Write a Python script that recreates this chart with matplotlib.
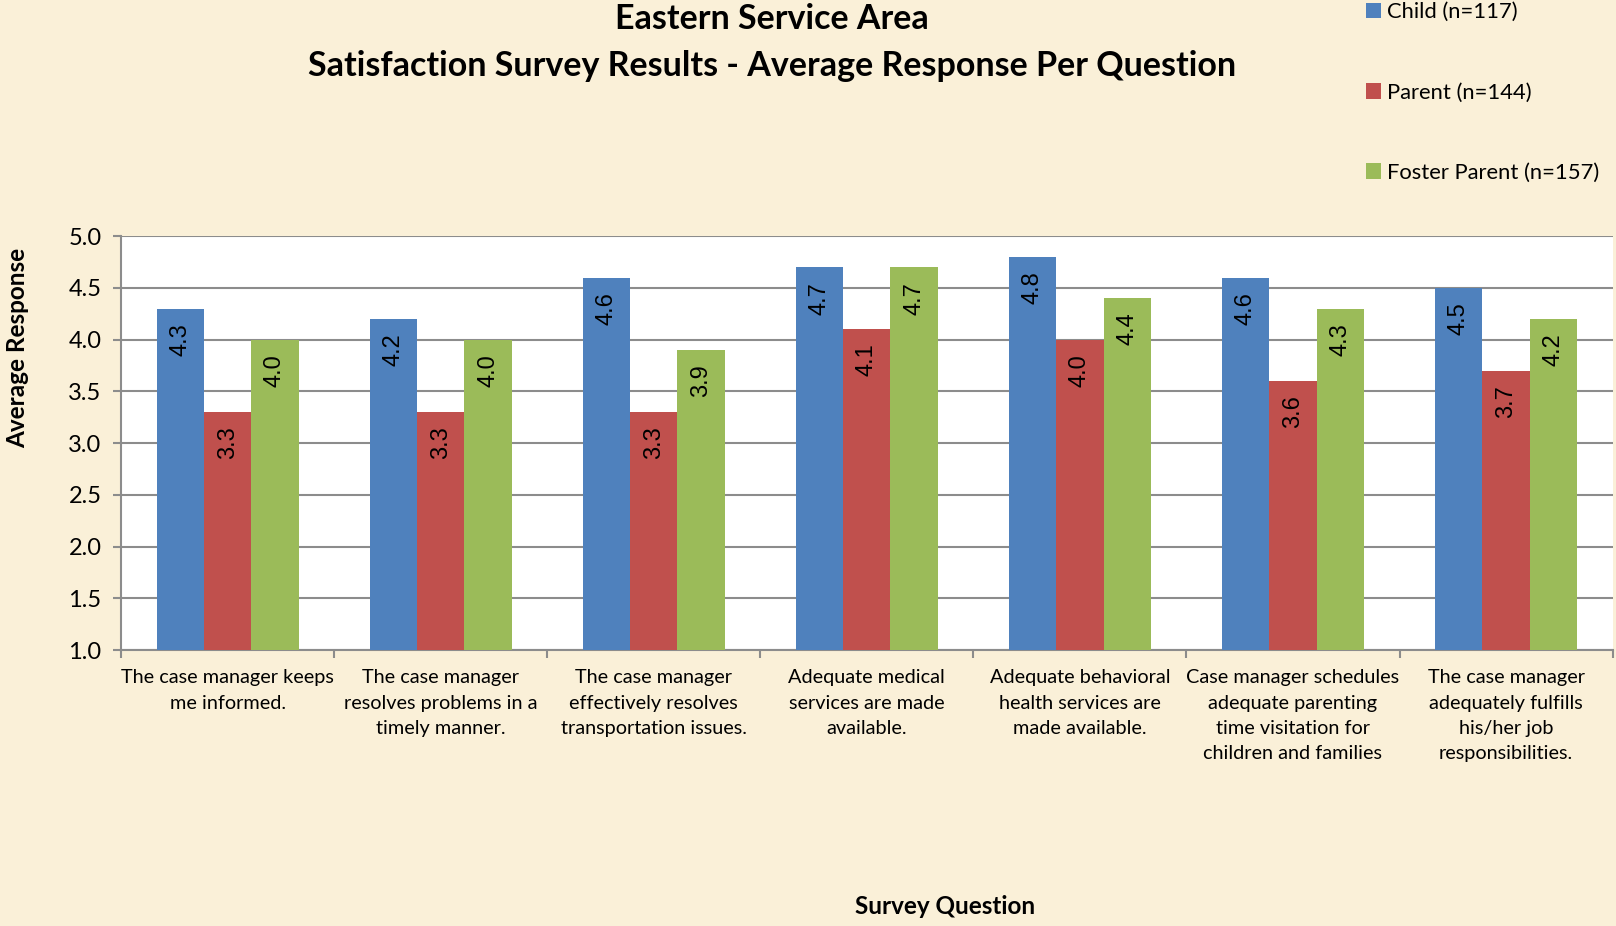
import matplotlib.pyplot as plt
import numpy as np

questions = [
    "The case manager keeps\nme informed.",
    "The case manager\nresolves problems in a\ntimely manner.",
    "The case manager\neffectively resolves\ntransportation issues.",
    "Adequate medical\nservices are made\navailable.",
    "Adequate behavioral\nhealth services are\nmade available.",
    "Case manager schedules\nadequate parenting\ntime visitation for\nchildren and families",
    "The case manager\nadequately fulfills\nhis/her job\nresponsibilities.",
]
series_names = ["Child (n=117)", "Parent (n=144)", "Foster Parent (n=157)"]
child = [4.3, 4.2, 4.6, 4.7, 4.8, 4.6, 4.5]
parent = [3.3, 3.3, 3.3, 4.1, 4.0, 3.6, 3.7]
foster = [4.0, 4.0, 3.9, 4.7, 4.4, 4.3, 4.2]
colors = ["#4F81BD", "#C0504D", "#9BBB59"]
yticks = [1.0, 1.5, 2.0, 2.5, 3.0, 3.5, 4.0, 4.5, 5.0]

font = "Lato"
bg = "#FAF0D8"

fig = plt.figure(figsize=(16.16, 9.26), dpi=100)
fig.patch.set_facecolor(bg)
ax = fig.add_axes([0.0749, 0.298, 0.923, 0.447])
ax.set_facecolor("white")

x = np.arange(len(questions))
w = 1 / 4.5
for i, (vals, c) in enumerate(zip([child, parent, foster], colors)):
    bars = ax.bar(x + (i - 1) * w, np.array(vals) - 1.0, w, bottom=1.0,
                  color=c, label=series_names[i], zorder=3)
    for b, v in zip(bars, vals):
        ax.text(b.get_x() + b.get_width() / 2, v - 0.14, f"{v:.1f}",
                rotation=90, ha="center", va="top", fontsize=17,
                family="Liberation Sans", zorder=4)

ax.set_ylim(1.0, 5.0)
ax.set_xlim(-0.5, len(questions) - 0.5)
ax.set_yticks(yticks)
ax.set_yticklabels([f"{t:.1f}" for t in yticks], family=font, fontsize=17)
ax.yaxis.grid(True, color="#8C8C8C", linewidth=1.5, zorder=0)
ax.set_axisbelow(True)

ax.set_xticks(np.arange(len(questions) + 1) - 0.5)
ax.set_xticklabels([])
ax.set_xticks(x, minor=True)
ax.set_xticklabels(questions, minor=True, family=font, fontsize=14.3,
                   linespacing=1.58, va="top")
ax.tick_params(axis="x", which="minor", length=0, pad=14)
ax.tick_params(axis="x", which="major", length=6, color="#8C8C8C", width=1.5)
ax.tick_params(axis="y", length=6, color="#8C8C8C", width=1.5, pad=8)

for s in ["top", "right"]:
    ax.spines[s].set_visible(False)
for s in ["left", "bottom"]:
    ax.spines[s].set_color("#8C8C8C")
    ax.spines[s].set_linewidth(1.5)

fig.text(0.4777, 0.980, "Eastern Service Area", ha="center", va="center",
         family=font, fontsize=24.5, weight="bold")
fig.text(0.4777, 0.929, "Satisfaction Survey Results - Average Response Per Question",
         ha="center", va="center", family=font, fontsize=24.5, weight="bold")
fig.text(0.011, 0.624, "Average Response", rotation=90, ha="center", va="center",
         family=font, fontsize=17.5, weight="bold")
fig.text(0.585, 0.021, "Survey Question", ha="center", va="center",
         family=font, fontsize=17.5, weight="bold")

leg = fig.legend(loc="upper left", bbox_to_anchor=(0.833, 1.019), frameon=False,
                 prop={"family": font, "size": 15.8}, labelspacing=2.75,
                 handlelength=0.7, handleheight=0.7, handletextpad=0.25)

fig.savefig("out.png", dpi=100, facecolor=bg)
